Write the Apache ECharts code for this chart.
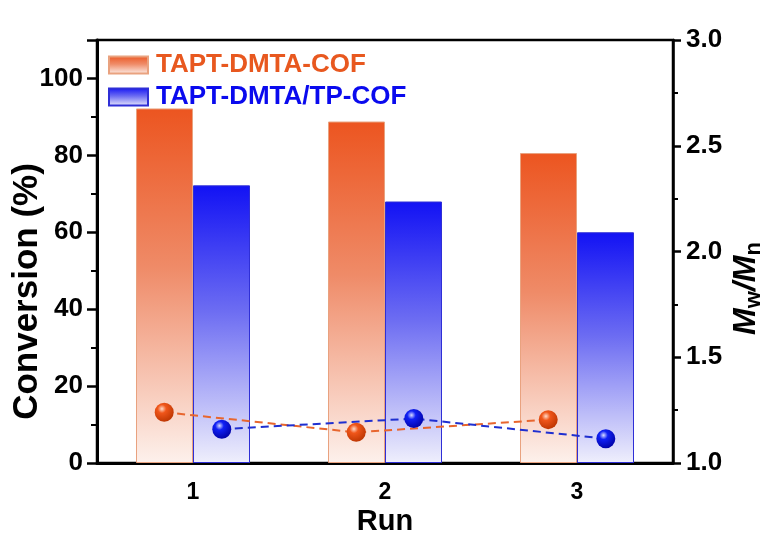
<!DOCTYPE html>
<html>
<head>
<meta charset="utf-8">
<script src="https://cdn.jsdelivr.net/npm/echarts@6/dist/echarts.min.js"></script>
<style>
  html, body { margin: 0; padding: 0; background: #ffffff; }
  #chart { width: 769px; height: 533px; }
</style>
</head>
<body>
<div id="chart"></div>
<script>
// Catalyst recycling: conversion (bars, left axis) and dispersity Mw/Mn (spheres, right axis)
const runs = ['1', '2', '3'];
const runNumbers = [1, 2, 3];
const seriesNames = ['TAPT-DMTA-COF', 'TAPT-DMTA/TP-COF'];
const conversionCOF = [92.2, 88.8, 80.6];
const conversionTP = [72.2, 68.0, 60.0];
const dispersityCOF = [1.24, 1.145, 1.205];
const dispersityTP = [1.16, 1.21, 1.115];
const leftRange = [0, 110];
const rightRange = [1.0, 3.0];

const FONT = "'Liberation Sans', Arial, sans-serif";
const ORANGE = '#E8581F';
const BLUE = '#0A0AEE';

// spheres sit over the middle of their bar
const sphereOffset = 0.15;

function barGradient(top, mid, bottom) {
  return new echarts.graphic.LinearGradient(0, 0, 0, 1, [
    { offset: 0, color: top },
    { offset: 0.45, color: mid },
    { offset: 1, color: bottom }
  ]);
}
function sphere(light, base, dark) {
  return {
    type: 'radial', x: 0.38, y: 0.32, r: 0.75,
    colorStops: [
      { offset: 0, color: light },
      { offset: 0.3, color: base },
      { offset: 1, color: dark }
    ]
  };
}

const chart = echarts.init(document.getElementById('chart'), null, { renderer: 'canvas' });

const option = {
  backgroundColor: '#ffffff',
  animation: false,
  textStyle: { fontFamily: FONT, fontWeight: 'bold' },
  grid: {
    left: 97, right: 96, top: 40, bottom: 70,
    containLabel: false,
    outerBoundsMode: 'none',
    show: true, borderColor: '#000', borderWidth: 2.5, backgroundColor: 'transparent'
  },
  legend: {
    orient: 'vertical',
    left: 103, top: 47,
    itemWidth: 39, itemHeight: 17, itemGap: 6,
    icon: 'rect',
    data: [
      { name: seriesNames[0], textStyle: { color: ORANGE } },
      { name: seriesNames[1], textStyle: { color: BLUE } }
    ],
    textStyle: { fontFamily: FONT, fontWeight: 'bold', fontSize: 26, padding: [0, 0, 0, 3] }
  },
  xAxis: [
    {
      type: 'category',
      data: runs,
      boundaryGap: true,
      name: 'Run',
      nameLocation: 'middle',
      nameGap: 44,
      nameMoveOverlap: false,
      nameTextStyle: { fontFamily: FONT, fontWeight: 'bold', fontSize: 29, color: '#000' },
      axisLine: { lineStyle: { color: '#000', width: 3 } },
      axisTick: { alignWithLabel: true, length: 8, lineStyle: { color: '#000', width: 2.5 } },
      axisLabel: { margin: 18, fontFamily: FONT, fontWeight: 'bold', fontSize: 23, color: '#000' },
      splitLine: { show: false }
    },
    {
      type: 'value',
      min: 0.5, max: 3.5,
      show: false
    }
  ],
  yAxis: [
    {
      type: 'value',
      min: leftRange[0], max: leftRange[1], interval: 20,
      position: 'left',
      name: 'Conversion (%)',
      nameLocation: 'middle',
      nameRotate: 90,
      nameGap: 52,
      nameMoveOverlap: false,
      nameTextStyle: { fontFamily: FONT, fontWeight: 'bold', fontSize: 35, color: '#000', padding: [0, 80, 0, 0] },
      axisLine: { show: true, lineStyle: { color: '#000', width: 3 } },
      axisTick: { show: true, length: 10, lineStyle: { color: '#000', width: 2.5 } },
      minorTick: { show: true, splitNumber: 2, length: 6, lineStyle: { color: '#000', width: 2 } },
      axisLabel: { margin: 14, fontFamily: FONT, fontWeight: 'bold', fontSize: 26, color: '#000', showMaxLabel: false },
      splitLine: { show: false }
    },
    {
      type: 'value',
      min: rightRange[0], max: rightRange[1], interval: 0.5,
      position: 'right',
      name: '{i|M}{s|w}{i|/M}{s|n}',
      nameLocation: 'middle',
      nameRotate: 90,
      nameGap: 54,
      nameMoveOverlap: false,
      nameTextStyle: {
        color: '#000', padding: [0, 74, 0, 0],
        rich: {
          i: { fontFamily: FONT, fontWeight: 'bold', fontStyle: 'italic', fontSize: 32, color: '#000' },
          s: { fontFamily: FONT, fontWeight: 'bold', fontSize: 22, color: '#000', verticalAlign: 'bottom', padding: [16, 0, 0, 0] }
        }
      },
      axisLine: { show: true, lineStyle: { color: '#000', width: 2.5 } },
      axisTick: { show: true, length: 8, lineStyle: { color: '#000', width: 2.5 } },
      minorTick: { show: true, splitNumber: 2, length: 5, lineStyle: { color: '#000', width: 2 } },
      axisLabel: {
        margin: 13, fontFamily: FONT, fontWeight: 'bold', fontSize: 26, color: '#000',
        formatter: v => v.toFixed(1)
      },
      splitLine: { show: false }
    }
  ],
  series: [
    {
      name: seriesNames[0],
      type: 'bar',
      xAxisIndex: 0, yAxisIndex: 0,
      data: conversionCOF,
      barWidth: 57,
      barGap: '0%',
      itemStyle: {
        color: barGradient('#EC5520', '#EF8B68', '#FDF1EC'),
        borderColor: '#E9A27F',
        borderWidth: 1
      }
    },
    {
      name: seriesNames[1],
      type: 'bar',
      xAxisIndex: 0, yAxisIndex: 0,
      data: conversionTP,
      barWidth: 57,
      barGap: '0%',
      itemStyle: {
        color: barGradient('#1212F4', '#6C6CF2', '#EFEFFC'),
        borderColor: '#2F2FD6',
        borderWidth: 1
      }
    },
    {
      name: 'Mw/Mn COF',
      type: 'line',
      xAxisIndex: 1, yAxisIndex: 1,
      data: runNumbers.map((r, i) => [r - sphereOffset, dispersityCOF[i]]),
      symbol: 'circle',
      symbolSize: 19,
      z: 5,
      lineStyle: { color: '#E8662E', width: 2, type: [8, 5] },
      itemStyle: { color: sphere('#FFD9C8', '#F0561A', '#B83300') }
    },
    {
      name: 'Mw/Mn TP',
      type: 'line',
      xAxisIndex: 1, yAxisIndex: 1,
      data: runNumbers.map((r, i) => [r + sphereOffset, dispersityTP[i]]),
      symbol: 'circle',
      symbolSize: 19,
      z: 5,
      lineStyle: { color: '#1F2FD0', width: 2, type: [8, 5] },
      itemStyle: { color: sphere('#D8DCFF', '#1020F5', '#0000A0') }
    }
  ]
};

chart.setOption(option);
</script>
</body>
</html>
